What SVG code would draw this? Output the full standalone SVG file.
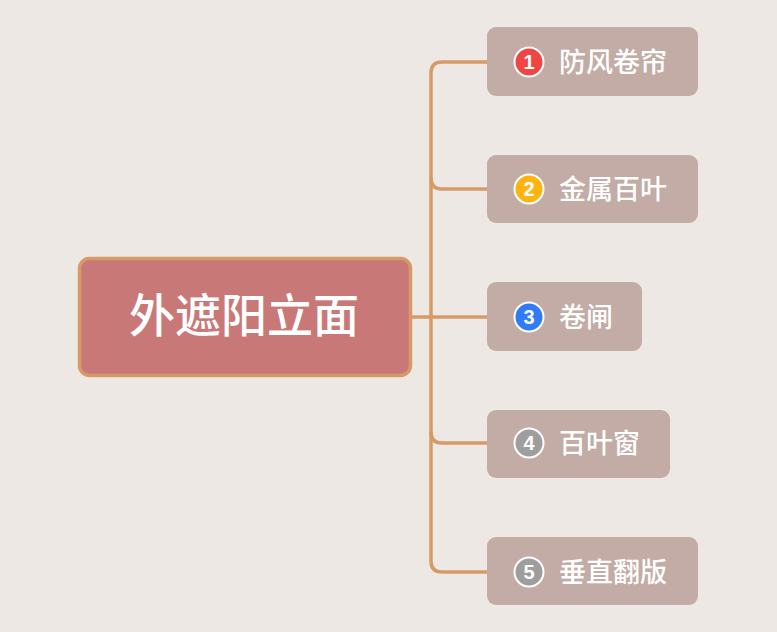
<svg xmlns="http://www.w3.org/2000/svg" width="777" height="632" viewBox="0 0 777 632">
<style>
.bg{fill:#EEE8E5}
.conn{fill:none;stroke:#D69A66;stroke-width:3.5;stroke-linecap:round}
.box{fill:#C2ACA5}
.lbl{font-family:"Noto Sans CJK SC","Noto Sans",sans-serif;font-size:27px;font-weight:500;fill:#FFFFFF}
.root{fill:#C97878;stroke:#D69A66;stroke-width:3.5}
.rootlbl{font-family:"Noto Sans CJK SC","Noto Sans",sans-serif;font-size:46px;font-weight:500;fill:#FFFFFF}
.ic{stroke:#FFFFFF;stroke-width:2}
.num{font-family:"Liberation Sans",Arial,sans-serif;font-size:20px;font-weight:bold;fill:#FFFFFF;text-anchor:middle}
</style>
<rect class="bg" x="0" y="0" width="777" height="632"/>
<g id="connectors">
<path class="conn" d="M411 317 H488"/>
<path class="conn" d="M488 62 H442 Q431 62 431 73 V561 Q431 572 442 572 H488"/>
<path class="conn" d="M431 178 Q431 189 442 189 H488"/>
<path class="conn" d="M431 432 Q431 443 442 443 H488"/>
</g>
<g id="root">
<rect class="root" x="79.5" y="258.5" width="331" height="117" rx="10"/>
<text class="rootlbl" x="244" y="332" text-anchor="middle">外遮阳立面</text>
</g>
<g id="n1">
<rect class="box" x="487" y="27" width="211" height="69" rx="9"/>
<circle class="ic" cx="529" cy="62" r="14.5" fill="#F04545"/>
<text class="num" x="529" y="69">1</text>
<text class="lbl" x="559" y="71.5">防风卷帘</text>
</g>
<g id="n2">
<rect class="box" x="487" y="155" width="211" height="68" rx="9"/>
<circle class="ic" cx="529" cy="189" r="14.5" fill="#FFB30F"/>
<text class="num" x="529" y="196">2</text>
<text class="lbl" x="559" y="198.5">金属百叶</text>
</g>
<g id="n3">
<rect class="box" x="487" y="282" width="155" height="69" rx="9"/>
<circle class="ic" cx="529" cy="317" r="14.5" fill="#2F7CF6"/>
<text class="num" x="529" y="324">3</text>
<text class="lbl" x="559" y="326.5">卷闸</text>
</g>
<g id="n4">
<rect class="box" x="487" y="410" width="183" height="68" rx="9"/>
<circle class="ic" cx="529" cy="443" r="14.5" fill="#9E9E9E"/>
<text class="num" x="529" y="450">4</text>
<text class="lbl" x="559" y="452.5">百叶窗</text>
</g>
<g id="n5">
<rect class="box" x="487" y="537" width="211" height="68" rx="9"/>
<circle class="ic" cx="529" cy="572" r="14.5" fill="#9E9E9E"/>
<text class="num" x="529" y="579">5</text>
<text class="lbl" x="559" y="581.5">垂直翻版</text>
</g>
</svg>
